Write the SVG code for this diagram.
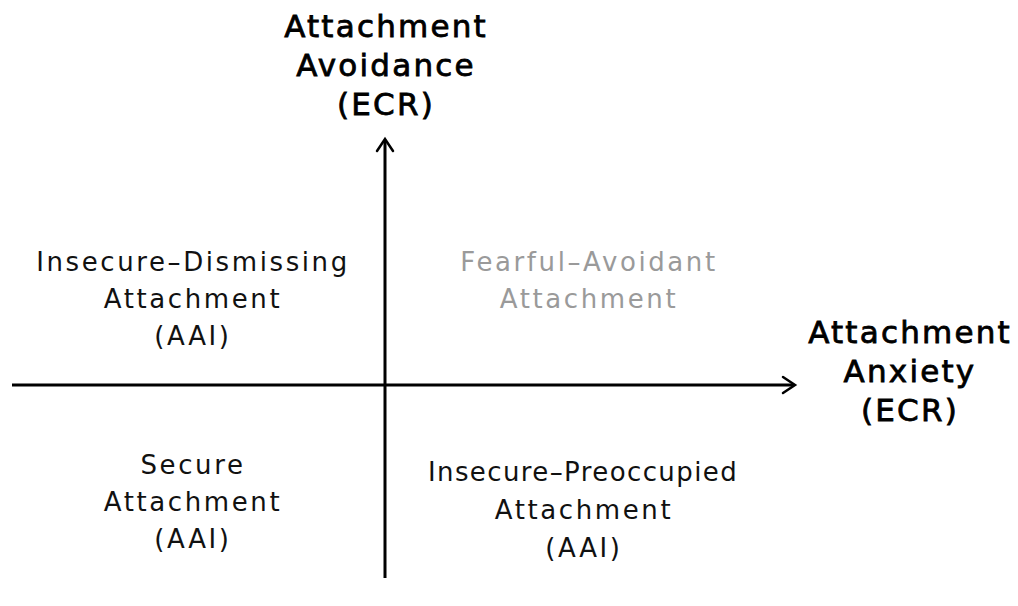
<svg xmlns="http://www.w3.org/2000/svg" width="1018" height="606" viewBox="0 0 1018 606">
<style>
.t{font-family:"DejaVu Sans","Open Sans",sans-serif;font-size:26px;letter-spacing:2.6px;fill:#111;text-anchor:middle}
.h{font-family:"DejaVu Sans","Open Sans",sans-serif;font-size:31px;letter-spacing:2.2px;fill:#000;stroke:#000;stroke-width:0.8;text-anchor:middle}
.g{fill:#9a9a9a}
.ax{stroke:#000;stroke-width:3;fill:none}
.ah{stroke:#000;stroke-width:2.5;fill:none;stroke-linecap:round;stroke-linejoin:miter}
</style>
<rect width="1018" height="606" fill="#fff"/>
<g id="connectors">
<line class="ax" x1="385" y1="578" x2="385" y2="140"/>
<polyline class="ah" points="377,151 385,139 393,151"/>
<line class="ax" x1="12" y1="385" x2="794" y2="385"/>
<polyline class="ah" points="783,377 795,385 783,393"/>
</g>
<g id="y-axis-label">
<text class="h" x="386" y="37">Attachment</text>
<text class="h" x="386" y="76">Avoidance</text>
<text class="h" x="386" y="115">(ECR)</text>
</g>
<g id="x-axis-label">
<text class="h" x="910" y="343">Attachment</text>
<text class="h" x="910" y="382">Anxiety</text>
<text class="h" x="910" y="421">(ECR)</text>
</g>
<g id="dismissing">
<text class="t" x="193" y="271">Insecure–Dismissing</text>
<text class="t" x="193" y="308">Attachment</text>
<text class="t" x="193" y="345">(AAI)</text>
</g>
<g id="fearful">
<text class="t g" x="589" y="271">Fearful–Avoidant</text>
<text class="t g" x="589" y="308">Attachment</text>
</g>
<g id="secure">
<text class="t" x="193" y="474">Secure</text>
<text class="t" x="193" y="511">Attachment</text>
<text class="t" x="193" y="548">(AAI)</text>
</g>
<g id="preoccupied">
<text class="t" x="583" y="481" style="letter-spacing:1.4px">Insecure–Preoccupied</text>
<text class="t" x="584" y="519">Attachment</text>
<text class="t" x="584" y="557">(AAI)</text>
</g>
</svg>
